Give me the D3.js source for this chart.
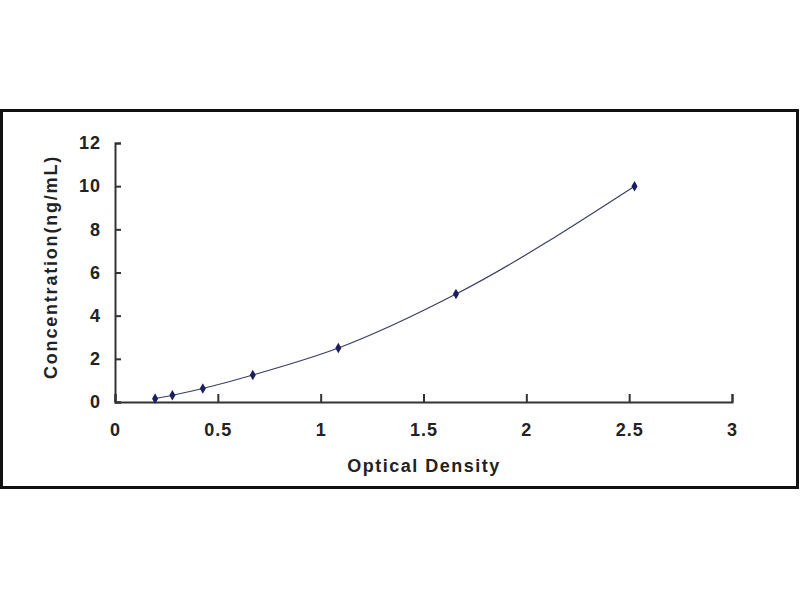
<!DOCTYPE html>
<html>
<head>
<meta charset="utf-8">
<script src="https://cdn.jsdelivr.net/npm/d3@7"></script>
<style>
  body { margin: 0; background: #fff; }
  svg { display: block; }
</style>
</head>
<body>
<svg id="chart" width="800" height="600"></svg>
<script>
// standard curve: optical density vs concentration
const opticalDensity = [0.195, 0.279, 0.427, 0.670, 1.086, 1.658, 2.526]
const concentration = [0.156, 0.312, 0.625, 1.25, 2.5, 5, 10]
const xTicks = [0, 0.5, 1, 1.5, 2, 2.5, 3]
const yTicks = [0, 2, 4, 6, 8, 10, 12]

const points = opticalDensity.map((d, i) => ({od: d, conc: concentration[i]}))

const svg = d3.select('#chart')
const font = '"Liberation Sans", Arial, sans-serif'

// outer frame
svg.append('rect')
  .attr('x', 1.5).attr('y', 110.5)
  .attr('width', 796).attr('height', 377)
  .attr('fill', '#fff')
  .attr('stroke', '#111')
  .attr('stroke-width', 3)

const margin = {left: 115, top: 143, right: 68, bottom: 198}
const width = 800 - margin.left - margin.right
const height = 600 - margin.top - margin.bottom

const g = svg.append('g')
  .attr('transform', 'translate(' + margin.left + ',' + margin.top + ')')

const x = d3.scaleLinear().domain([0, 3]).range([0, width])
const y = d3.scaleLinear().domain([0, 12]).range([height, 0])

// x axis, ticks pointing inward
const xAxis = g.append('g')
  .attr('transform', 'translate(0,' + height + ')')
  .call(d3.axisBottom(x).tickValues(xTicks).tickFormat(d3.format('')).tickSize(-8).tickPadding(21))
xAxis.select('.domain').attr('stroke', '#333').attr('stroke-width', 2)
xAxis.selectAll('.tick line').attr('stroke', '#333').attr('stroke-width', 2)
xAxis.selectAll('text')
  .attr('font-family', font).attr('font-weight', 'bold')
  .attr('font-size', 18).attr('letter-spacing', 1).attr('fill', '#222')

// y axis
const yAxis = g.append('g')
  .call(d3.axisLeft(y).tickValues(yTicks).tickSize(-6).tickPadding(14))
yAxis.select('.domain').attr('stroke', '#333').attr('stroke-width', 2)
yAxis.selectAll('.tick line').attr('stroke', '#333').attr('stroke-width', 2)
yAxis.selectAll('text')
  .attr('font-family', font).attr('font-weight', 'bold')
  .attr('font-size', 18).attr('letter-spacing', 1).attr('fill', '#222')

// fitted curve
g.append('path')
  .datum(points)
  .attr('fill', 'none')
  .attr('stroke', '#3a3f66')
  .attr('stroke-width', 1.2)
  .attr('d', d3.line()
    .curve(d3.curveMonotoneX)
    .x(d => x(d.od))
    .y(d => y(d.conc)))

// markers
g.selectAll('.pt')
  .data(points)
  .enter().append('path')
  .attr('class', 'pt')
  .attr('transform', d => 'translate(' + x(d.od) + ',' + y(d.conc) + ')')
  .attr('d', d3.symbol().type(d3.symbolDiamond).size(32))
  .attr('fill', '#1c1f5c')

// axis titles
svg.append('text')
  .attr('x', 424).attr('y', 472)
  .attr('text-anchor', 'middle')
  .attr('font-family', font).attr('font-weight', 'bold')
  .attr('font-size', 18).attr('letter-spacing', 1.5).attr('fill', '#222')
  .text('Optical Density')

svg.append('text')
  .attr('transform', 'translate(57,267) rotate(-90)')
  .attr('text-anchor', 'middle')
  .attr('font-family', font).attr('font-weight', 'bold')
  .attr('font-size', 18).attr('letter-spacing', 1.8).attr('fill', '#222')
  .text('Concentration(ng/mL)')
</script>
</body>
</html>
